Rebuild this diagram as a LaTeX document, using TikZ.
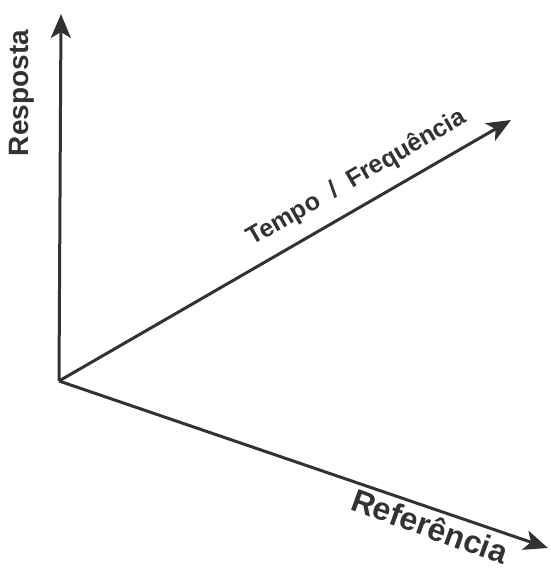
\documentclass[tikz,border=0pt]{standalone}
\usepackage{fontspec}
\setmainfont{Liberation Sans}
\usetikzlibrary{arrows.meta}
\definecolor{axisgray}{RGB}{50,50,50}

\begin{document}
\begin{tikzpicture}[x=1pt, y=1pt,
    axis/.style={axisgray, line width=3pt, -{Stealth[length=24pt, width=20pt, inset=6pt]}},
    axislabel/.style={axisgray, font=\bfseries, inner sep=1pt}]
    \useasboundingbox (0,0) rectangle (550,570);
    % Origin and the ends of the three axes.
        \coordinate (origin) at (59,189);
        \coordinate (respEnd) at (61,556);
        \coordinate (tempoEnd) at (511,450);
        \coordinate (refEnd) at (548,22);
    \draw[axis] (origin) -- (respEnd);
    \draw[axis] (origin) -- (tempoEnd);
    \draw[axis] (origin) -- (refEnd);
    % Below nodes are the labels.
        \node[axislabel, rotate=90, font=\bfseries\fontsize{28}{32}\selectfont] (resposta) at (22,477) {Resposta};
        \node[axislabel, rotate=30, font=\bfseries\fontsize{25}{30}\selectfont] (tempo) at (357,392) {Tempo~~/~~Frequência};
        \node[axislabel, rotate=-20, font=\bfseries\fontsize{32}{38}\selectfont] (referencia) at (430,44) {Referência};
\end{tikzpicture}
\end{document}
